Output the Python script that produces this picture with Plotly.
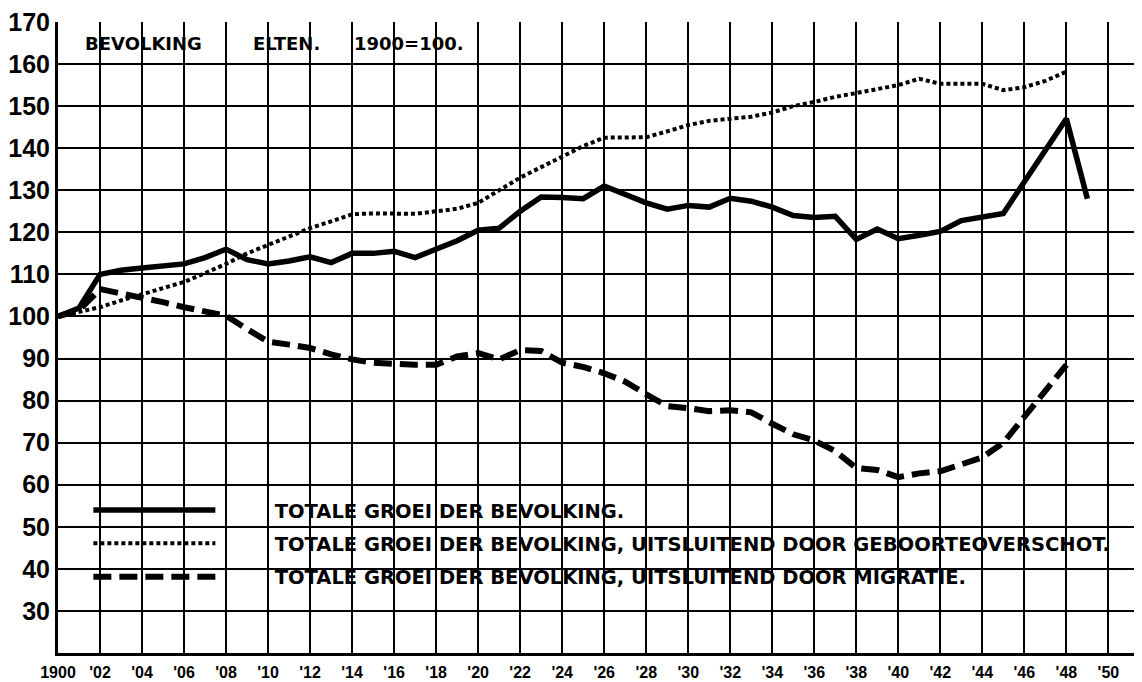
import plotly.graph_objects as go

years_total = list(range(1900, 1950))
total = [100, 102, 110, 111, 111.5, 112, 112.5, 114, 116, 113.5,
         112.5, 113.2, 114.2, 112.8, 115, 115, 115.5, 114, 116, 118,
         120.5, 121, 125, 128.4, 128.3, 128, 131, 129, 127, 125.5,
         126.4, 126, 128.1, 127.4, 126, 124, 123.5, 123.8, 118.3, 120.8,
         118.5, 119.3, 120.2, 122.8, 123.5, 124.5, 132, 139.5, 147, 128]

years_other = list(range(1900, 1949))
natural = [100, 101, 102.2, 103.8, 105.3, 106.7, 108.2, 110.3, 112.5, 115,
           117, 119, 121, 122.6, 124.3, 124.5, 124.4, 124.4, 125, 125.6,
           127, 130, 133, 135.5, 138, 140.5, 142.5, 142.5, 142.6, 144,
           145.5, 146.5, 147.1, 147.5, 148.5, 150, 151, 152.2, 153.1, 154,
           155, 156.5, 155.3, 155.3, 155.3, 153.8, 154.5, 156, 158.2]
migration = [100, 101.5, 106.5, 105.5, 104.6, 103.4, 102.2, 101.2, 100.2, 97,
             94, 93.3, 92.5, 91, 89.8, 89, 88.7, 88.5, 88.5, 90.5,
             91.3, 89.8, 92, 91.8, 89, 88, 86.5, 84.5, 81.5, 78.7,
             78.2, 77.5, 77.7, 77.2, 74.5, 72, 70.5, 68, 64, 63.5,
             61.8, 62.7, 63.2, 65, 66.5, 70, 76, 82, 88.5]

names = ["TOTALE GROEI DER BEVOLKING.",
         "TOTALE GROEI DER BEVOLKING, UITSLUITEND DOOR GEBOORTEOVERSCHOT.",
         "TOTALE GROEI DER BEVOLKING, UITSLUITEND DOOR MIGRATIE."]

x_ticks = list(range(1900, 1951, 2))
x_labels = ["1900"] + ["'%02d" % (y % 100) for y in x_ticks[1:]]
y_ticks = list(range(30, 171, 10))

PAD = "\u00a0" * 8

fig = go.Figure()
fig.add_trace(go.Scatter(x=years_total, y=total, mode="lines", name=PAD + names[0],
                         legendgroup="a",
                         line=dict(color="black", width=5.5)))
fig.add_trace(go.Scatter(x=years_other, y=natural, mode="lines", name=PAD + names[1],
                         legendgroup="b",
                         line=dict(color="black", width=4, dash="4px,3px")))
fig.add_trace(go.Scatter(x=years_other, y=migration, mode="lines", name=PAD + names[2],
                         legendgroup="c",
                         line=dict(color="black", width=6, dash="18px,8px")))

tfont = dict(family="DejaVu Sans", size=18, color="black", weight="bold")
for txt, xv in [("BEVOLKING", 1901.2), ("ELTEN.", 1909.2), ("1900=100.", 1914.0)]:
    fig.add_annotation(x=xv, y=165, text=txt, showarrow=False, xanchor="left",
                       yanchor="middle", font=tfont)

fig.update_layout(
    width=1134, height=674,
    margin=dict(l=48, r=0, t=14, b=29),
    paper_bgcolor="white", plot_bgcolor="white",
    showlegend=True,
    legend=dict(x=0.028, y=0.257, xanchor="left", yanchor="top",
                bgcolor="rgba(0,0,0,0)", borderwidth=0,
                itemwidth=122, tracegroupgap=5,
                font=dict(family="DejaVu Sans", size=19.5, color="black", weight="bold")),
    xaxis=dict(range=[1900, 1951.6], tickvals=x_ticks, ticktext=x_labels,
               showgrid=True, gridcolor="black", gridwidth=2,
               showline=True, linecolor="black", linewidth=3,
               zeroline=False, ticks="", ticklabelstandoff=3,
               ticklabeloverflow="allow",
               tickfont=dict(family="Liberation Sans", size=16, color="black", weight="bold")),
    yaxis=dict(range=[20, 170], tickvals=y_ticks,
               showgrid=True, gridcolor="black", gridwidth=2,
               showline=True, linecolor="black", linewidth=3,
               zeroline=False, ticks="", ticklabelstandoff=0,
               ticklabeloverflow="allow",
               tickfont=dict(family="Liberation Sans", size=25, color="black", weight="bold")),
)

fig.write_html("out.html")
